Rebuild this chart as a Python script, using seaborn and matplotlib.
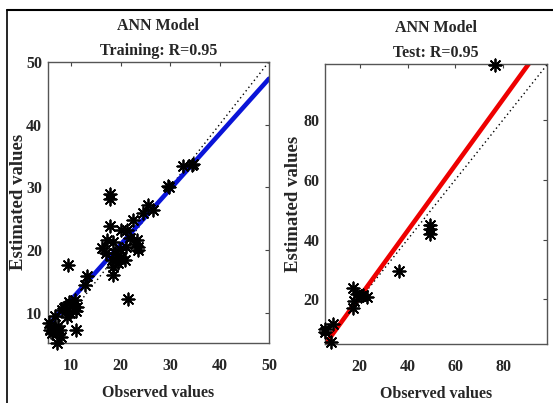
import matplotlib
matplotlib.use("Agg")
import matplotlib.pyplot as plt
import matplotlib.lines as mlines
import seaborn as sns
import pandas as pd
import numpy as np

# ---------------- data ----------------
train_obs = [5.6, 5.8, 6.0, 6.2, 6.5, 6.8, 7.1, 7.1, 7.4, 7.8, 7.9, 8.1, 8.5, 8.8,
             9.2, 9.5, 9.9, 9.3, 10.3, 10.8, 11.0, 11.0, 11.2, 12.8, 13.3,
             16.2, 17.2, 17.0, 17.9, 17.9, 17.9, 18.2, 18.5, 18.5, 18.5, 18.8, 19.2,
             19.5, 19.8, 20.2, 20.2, 20.9, 21.2, 21.4, 21.6, 22.0, 22.6, 23.3, 23.6,
             23.5, 23.0, 24.6, 25.6, 26.6, 29.5, 29.8, 32.6, 34.6, 34.5]
train_est = [8.4, 7.3, 7.8, 6.8, 7.5, 9.5, 6.8, 5.2, 8.0, 7.3, 6.2, 10.5, 10.8, 11.0,
             9.4, 11.8, 10.0, 17.6, 11.5, 12.1, 10.4, 7.3, 11.0, 14.5, 15.9,
             20.3, 21.6, 19.5, 29.0, 28.2, 23.9, 18.4, 21.3, 17.3, 16.1, 19.6, 19.0,
             18.0, 20.2, 19.0, 23.2, 18.4, 20.5, 23.2, 12.3, 22.0, 24.8, 21.6, 20.6,
             20.0, 21.0, 25.9, 27.2, 26.4, 30.2, 30.0, 33.4, 33.8, 33.5]

test_obs = [5.4, 5.5, 8.8, 8.1, 17.3, 17.5, 17.3, 19.0, 20.3, 21.5, 23.0, 36.5,
            49.3, 49.3, 49.3, 76.5]
test_est = [9.2, 10.0, 11.8, 5.6, 23.7, 19.5, 17.0, 21.8, 21.2, 21.6, 20.7, 29.5,
            44.8, 43.4, 41.8, 98.5]

# fitted regression lines (slope, intercept)
train_fit = (0.88, 3.3)
test_fit = (1.10, -1.1)

train_title = "ANN Model\nTraining: R=0.95"
test_title = "ANN Model\nTest: R=0.95"
train_xticks = [10, 20, 30, 40, 50]
train_yticks = [10, 20, 30, 40, 50]
test_xticks = [20, 40, 60, 80]
test_yticks = [20, 40, 60, 80]
train_lim = (5.3, 50)
test_xlim = (5.4, 98.3)
test_ylim = (5.05, 98.6)

# ---------------- style ----------------
sns.set_style("white")
plt.rcParams['font.family'] = ['Liberation Serif', 'DejaVu Serif']
plt.rcParams['font.weight'] = 'bold'

fig = plt.figure(figsize=(5.53, 4.03), dpi=100)
ax1 = fig.add_axes([0.0863, 0.1496, 0.4002, 0.6973])
ax2 = fig.add_axes([0.5877, 0.1464, 0.4009, 0.6940])

star = (8, 2, 0)

def panel(ax, obs, est, fit, color, xlim, ylim, xticks, yticks, title):
    df = pd.DataFrame({"obs": obs, "est": est})
    x0, x1 = xlim
    ident = pd.DataFrame({"x": [min(xlim[0], ylim[0]), max(xlim[1], ylim[1])]})
    ident["y"] = ident["x"]
    sns.lineplot(data=ident, x="x", y="y", ax=ax, color="black", lw=1.0,
                 linestyle=(0, (1, 2.2)), zorder=1)
    fx = pd.DataFrame({"x": [x0, x1]})
    fx["y"] = fit[0] * fx["x"] + fit[1]
    sns.lineplot(data=fx, x="x", y="y", ax=ax, color=color, lw=3.3, zorder=2)
    sns.scatterplot(data=df, x="obs", y="est", ax=ax, marker=star, s=78,
                    color="black", linewidth=1.3, edgecolor="black", zorder=3,
                    clip_on=False)
    ax.set_xlim(*xlim)
    ax.set_ylim(*ylim)
    ax.set_xticks(xticks)
    ax.set_yticks(yticks)
    ax.tick_params(direction="in", top=True, right=True, length=3, width=0.8,
                   labelsize=11.5, color="#444444")
    ax.tick_params(axis="x", pad=11)
    ax.tick_params(axis="y", pad=4)
    for lab in ax.get_xticklabels() + ax.get_yticklabels():
        lab.set_fontweight("bold")
    for sp in ax.spines.values():
        sp.set_color("#555555")
        sp.set_linewidth(1.0)
        sp.set_visible(True)
    ax.set_xlabel("Observed values", fontsize=11.5, fontweight="bold", labelpad=8)
    ax.set_ylabel("Estimated values", fontsize=13.5, fontweight="bold")
    ax.set_title(title, fontsize=11.5, fontweight="bold", pad=5, linespacing=1.75)

panel(ax1, train_obs, train_est, train_fit, "#0a14d8", train_lim, train_lim,
      train_xticks, train_yticks, train_title)
panel(ax2, test_obs, test_est, test_fit, "#ee0000", test_xlim, test_ylim,
      test_xticks, test_yticks, test_title)
ax1.yaxis.set_label_coords(-0.095, 0.5)
ax2.yaxis.set_label_coords(-0.105, 0.5)

# figure frame lines (top and left)
fig.add_artist(mlines.Line2D([7.3 / 553, 7.3 / 553], [0, 1 - 10 / 403],
                             transform=fig.transFigure, color="black", lw=1.2))
fig.add_artist(mlines.Line2D([7.3 / 553, 1], [1 - 10 / 403, 1 - 10 / 403],
                             transform=fig.transFigure, color="black", lw=1.5))

fig.savefig("out.png", dpi=100)
